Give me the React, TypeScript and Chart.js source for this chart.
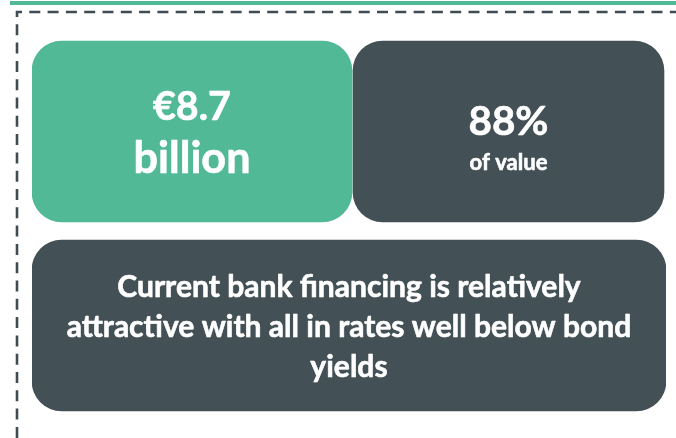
import React, { useEffect, useRef } from "react";
import { Chart, registerables } from "chart.js";

Chart.register(...registerables);

// ---- data ----
const rows = ["headline", "summary"];
const greenBox: ([number, number] | null)[] = [[0, 50.47], null];
const darkTopBox: ([number, number] | null)[] = [[50.63, 99.68], null];
const darkBottomBox: ([number, number] | null)[] = [null, [0, 100]];
const headlineText = ["€8.7", "billion"];
const shareText = ["88%", "of value"];
const summaryLines = [
  "Current bank financing is relatively",
  "attractive with all in rates well below bond",
  "yields",
];

const GREEN = "#51b995";
const DARK = "#435156";
const FONT = "Lato";

function fitSize(ctx: CanvasRenderingContext2D, text: string, target: number) {
  ctx.font = `bold 100px ${FONT}`;
  const w = ctx.measureText(text).width;
  return (100 * target) / w;
}

const framePlugin = {
  id: "frame",
  beforeDraw(chart: any) {
    const ctx = chart.ctx as CanvasRenderingContext2D;
    ctx.save();
    ctx.fillStyle = GREEN;
    ctx.fillRect(10, 1, chart.width - 10, 4);
    ctx.strokeStyle = "#3f4c51";
    ctx.lineWidth = 2.6;
    ctx.setLineDash([11, 7.3]);
    ctx.lineDashOffset = 5;
    ctx.beginPath();
    ctx.moveTo(17, 11);
    ctx.lineTo(17, chart.height);
    ctx.stroke();
    ctx.beginPath();
    ctx.moveTo(16, 12);
    ctx.lineTo(chart.width, 12);
    ctx.stroke();
    ctx.restore();
  },
};

function drawText(ctx: CanvasRenderingContext2D, text: string, x: number, y: number) {
  ctx.fillText(text, x, y);
  ctx.strokeText(text, x, y);
}

const textPlugin = {
  id: "boxText",
  afterDatasetsDraw(chart: any) {
    const ctx = chart.ctx as CanvasRenderingContext2D;
    ctx.save();
    ctx.fillStyle = "#ffffff";
    ctx.strokeStyle = "#ffffff";
    ctx.lineWidth = 0.6;
    ctx.lineJoin = "round";
    ctx.textAlign = "center";
    ctx.textBaseline = "alphabetic";
    const box = (di: number, ri: number) => {
      const el = chart.getDatasetMeta(di).data[ri];
      const p = el.getProps(["x", "y", "base", "height"], true);
      const left = Math.min(p.x, p.base);
      const right = Math.max(p.x, p.base);
      return { cx: (left + right) / 2, top: p.y - p.height / 2 };
    };
    // green headline
    const g = box(0, 0);
    let s = fitSize(ctx, headlineText[0], 78);
    ctx.font = `bold ${s}px ${FONT}`;
    drawText(ctx, headlineText[0], g.cx, g.top + 79);
    s = fitSize(ctx, headlineText[1], 117);
    ctx.font = `bold ${s}px ${FONT}`;
    drawText(ctx, headlineText[1], g.cx, g.top + 132);
    // dark share
    const d = box(1, 0);
    s = fitSize(ctx, shareText[0], 80);
    ctx.font = `bold ${s}px ${FONT}`;
    drawText(ctx, shareText[0], d.cx, d.top + 94);
    s = fitSize(ctx, shareText[1], 78);
    ctx.font = `bold ${s}px ${FONT}`;
    drawText(ctx, shareText[1], d.cx, d.top + 129);
    // summary
    const b = box(2, 1);
    s = fitSize(ctx, summaryLines[1], 565);
    ctx.font = `bold ${s}px ${FONT}`;
    summaryLines.forEach((line, i) => {
      drawText(ctx, line, b.cx, b.top + 57 + i * 40);
    });
    ctx.restore();
  },
};

export default function App() {
  const ref = useRef<HTMLCanvasElement | null>(null);
  useEffect(() => {
    if (!ref.current) return;
    const chart = new Chart(ref.current, {
      type: "bar",
      data: {
        labels: rows,
        datasets: [
          {
            label: "value",
            data: greenBox as any,
            backgroundColor: GREEN,
            borderRadius: 30,
            borderSkipped: false,
            barThickness: 181,
            grouped: false,
          } as any,
          {
            label: "share",
            data: darkTopBox as any,
            backgroundColor: DARK,
            borderRadius: 30,
            borderSkipped: false,
            barThickness: 181,
            grouped: false,
          } as any,
          {
            label: "summary",
            data: darkBottomBox as any,
            backgroundColor: DARK,
            borderRadius: 30,
            borderSkipped: false,
            barThickness: 171,
            grouped: false,
          } as any,
        ],
      },
      options: {
        indexAxis: "y",
        responsive: false,
        animation: false,
        layout: { padding: { left: 32, right: 10, top: 34.5, bottom: 15.5 } },
        scales: {
          x: { type: "linear", min: 0, max: 100, display: false },
          y: { type: "category", display: false, offset: true },
        },
        plugins: {
          legend: { display: false },
          tooltip: { enabled: false },
        },
      },
      plugins: [framePlugin, textPlugin],
    });
    return () => chart.destroy();
  }, []);
  return (
    <div style={{ position: "absolute", left: 0, top: 0, width: 676, height: 438, background: "#fff" }}>
      <canvas ref={ref} width={676} height={438} style={{ display: "block" }} />
    </div>
  );
}
